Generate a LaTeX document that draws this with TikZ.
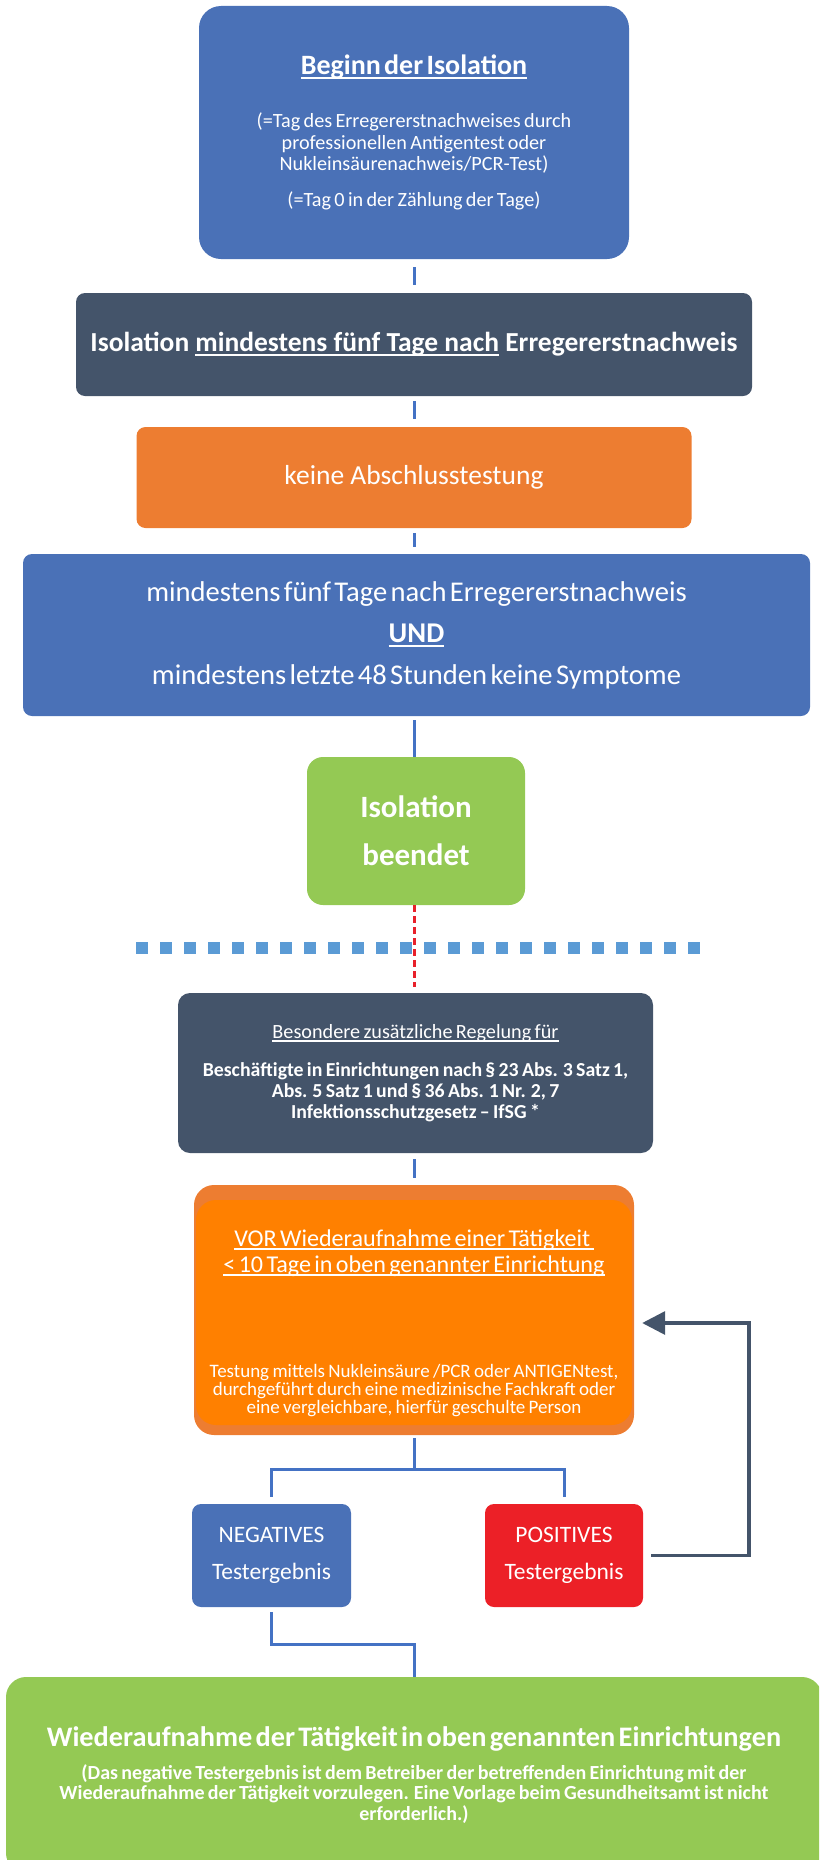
\documentclass[tikz,border=0pt]{standalone}
\usepackage{fontspec}
\setmainfont{Carlito}
\usetikzlibrary{arrows.meta}
\definecolor{boxblue}{HTML}{4A71B7}
\definecolor{slate}{HTML}{44546A}
\definecolor{orangeA}{HTML}{ED7D31}
\definecolor{orangeB}{HTML}{FF8000}
\definecolor{boxgreen}{HTML}{94C954}
\definecolor{boxred}{HTML}{EC2027}
\definecolor{dotblue}{HTML}{5B9BD5}
\definecolor{lineblue}{HTML}{4472C4}
\definecolor{dashred}{HTML}{E8202A}
\newcommand\uln[1]{\leavevmode\setbox0\hbox{#1}\rlap{\rule[-0.16em]{\wd0}{0.07em}}\box0\relax}
\newcommand\fs[2]{\fontsize{#1}{#2}\selectfont}
\begin{document}
\begin{tikzpicture}[x=1pt,y=-1pt,
  card/.style={rectangle, inner sep=0pt, text=white, align=center, rounded corners=9pt},
  link/.style={draw=lineblue, line width=3pt},
  loop/.style={draw=slate, line width=3.5pt, -{Triangle[length=23pt,width=23pt]}},
]
\useasboundingbox (0,0) rectangle (819,1860);
\clip (0,0) rectangle (819,1860);

\node[card, fill=boxblue, rounded corners=22pt, minimum width=430pt, minimum height=253pt, text width=420pt] (b1) at (414,132.5) {%
  \fs{28}{30}\bfseries\uln{Beginn der Isolation}\par\vspace{31.5pt}
  \fs{20.2}{21.5}\mdseries (=Tag des Erregererstnachweises durch\\ professionellen Antigentest oder\\ Nukleinsäurenachweis/PCR-Test)\par\vspace{14.5pt}
  (=Tag 0 in der Zählung der Tage)\par};

\node[card, fill=slate, minimum width=676pt, minimum height=103pt] (b2) at (414,344.5)
  {\fs{27.5}{30}\bfseries Isolation \uln{mindestens fünf Tage nach} Erregererstnachweis};

\node[card, fill=orangeA, minimum width=555pt, minimum height=101pt] (b3) at (414,477.5)
  {\fs{27.5}{30}keine Abschlusstestung};

\node[card, fill=boxblue, minimum width=787pt, minimum height=162pt, text width=760pt] (b4) at (416.5,635) {%
  \fs{28.6}{41.5}mindestens fünf Tage nach Erregererstnachweis\\ {\bfseries\uln{UND}}\\ mindestens letzte 48 Stunden keine Symptome\par};

\node[card, fill=boxgreen, rounded corners=16pt, minimum width=218pt, minimum height=148pt, text width=200pt] (b5) at (416,831) {%
  \fs{31}{48}\bfseries Isolation\\ beendet\par};

\coordinate (sepL) at (136,948);
\coordinate (sepR) at (701,948);
\draw[dotblue, line width=12pt, dash pattern=on 12pt off 12pt] (sepL) -- (sepR);

\node[card, fill=slate, rounded corners=12pt, minimum width=475pt, minimum height=160pt, text width=470pt] (b6) at (415.5,1073) {%
  \fs{20.2}{21}\uln{Besondere zusätzliche Regelung für}\par\vspace{17pt}
  \fs{19.8}{21}\bfseries Beschäftigte in Einrichtungen nach § 23 Abs. 3 Satz 1,\\ Abs. 5 Satz 1 und § 36 Abs. 1 Nr. 2, 7\\ Infektionsschutzgesetz – IfSG *\par};

\node[card, fill=orangeA, rounded corners=20pt, minimum width=440pt, minimum height=250pt, text width=435pt,
  path picture={\fill[orangeB] ([xshift=2pt,yshift=-15pt]path picture bounding box.north west) rectangle ([xshift=-2pt,yshift=10pt]path picture bounding box.south east);}] (b7) at (414,1310) {%
  \rule{0pt}{43pt}\fs{24.1}{26}\uln{VOR Wiederaufnahme einer Tätigkeit\ }\\ \uln{< 10 Tage in oben genannter Einrichtung}\par\vspace{86.7pt}
  \fs{19}{18.3}Testung mittels Nukleinsäure /PCR oder ANTIGENtest,\\ durchgeführt durch eine medizinische Fachkraft oder\\ eine vergleichbare, hierfür geschulte Person\par};

\node[card, fill=boxblue, minimum width=159pt, minimum height=103pt, text width=150pt] (neg) at (271.5,1555.5) {%
  \fs{23.5}{37}NEGATIVES\\ Testergebnis\par};
\node[card, fill=boxred, minimum width=158pt, minimum height=103pt, text width=150pt] (pos) at (564,1555.5) {%
  \fs{23.5}{37}POSITIVES\\ Testergebnis\par};

\node[card, fill=boxgreen, rounded corners=20pt, minimum width=816pt, minimum height=196pt, text width=805pt] (fin) at (414,1775) {%
  \fs{28.3}{30}\bfseries Wiederaufnahme der Tätigkeit in oben genannten Einrichtungen\par\vspace{12.5pt}
  \fs{20}{20.5}(Das negative Testergebnis ist dem Betreiber der betreffenden Einrichtung mit der\\ Wiederaufnahme der Tätigkeit vorzulegen. Eine Vorlage beim Gesundheitsamt ist nicht\\ erforderlich.)\par};

% connectors
\coordinate (mid) at (414,0);
\draw[link, shorten <=8pt, shorten >=8pt] (mid |- b1.south) -- (mid |- b2.north);
\draw[link, shorten <=5pt, shorten >=8pt] (mid |- b2.south) -- (mid |- b3.north);
\draw[link, shorten <=5pt, shorten >=7pt] (mid |- b3.south) -- (mid |- b4.north);
\draw[link, shorten <=4pt] (mid |- b4.south) -- (mid |- b5.north);
\draw[dashred, line width=3pt, dash pattern=on 7pt off 4pt, shorten >=6pt] (mid |- b5.south) -- (mid |- b6.north);
\draw[link, shorten <=6pt, shorten >=7pt] (mid |- b6.south) -- (mid |- b7.north);

\coordinate (sp) at (414,1469);
\draw[link, shorten <=3pt, shorten >=7pt] (b7.south) -- (b7.south |- sp) -| (neg.north);
\draw[link, shorten >=7pt] (b7.south |- sp) -| (pos.north);

\coordinate (jn) at (414,1644);
\draw[link, shorten <=5pt] (neg.south) -- (neg.south |- jn) -| (fin.north);

\coordinate (lp) at (749,1323);
\draw[loop] ([xshift=8pt]pos.east) -- (lp |- pos.east) -- (lp) -- ([xshift=8pt]b7.east |- lp);
\end{tikzpicture}
\end{document}
